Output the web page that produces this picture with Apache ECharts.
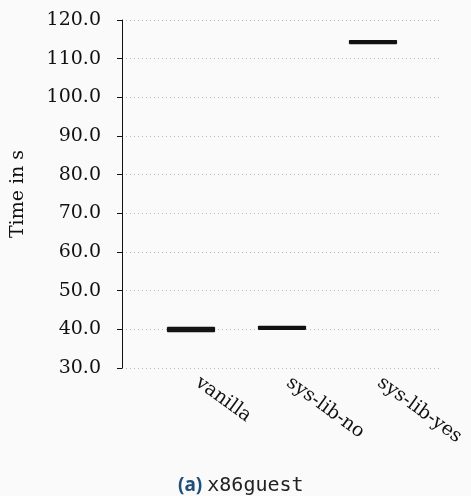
<!DOCTYPE html>
<html>
<head>
<meta charset="utf-8">
<script src="https://cdn.jsdelivr.net/npm/echarts@6/dist/echarts.min.js"></script>
<style>
  html, body { margin: 0; padding: 0; background: #fafafa; }
  #chart { width: 471px; height: 496px; }
</style>
</head>
<body>
<div id="chart"></div>
<script>
// Benchmark run times (seconds) per configuration
const categories = ['vanilla', 'sys-lib-no', 'sys-lib-yes'];
// [min, Q1, median, Q3, max]
const timesVanilla = [39.4, 39.5, 39.9, 40.4, 40.5];
const timesSysLibNo = [40.0, 40.1, 40.4, 40.7, 40.8];
const timesSysLibYes = [113.9, 114.0, 114.3, 114.6, 114.7];
const yMin = 30, yMax = 120, yStep = 10;

const serif = 'DejaVu Serif';
const chart = echarts.init(document.getElementById('chart'));

chart.setOption({
  backgroundColor: '#fafafa',
  animation: false,
  title: {
    left: 173,
    top: 471,
    text: '{a|(a)} {b|x86guest}',
    textStyle: {
      fontWeight: 'normal',
      rich: {
        a: { fontFamily: 'Noto Sans', fontWeight: 'bold', fontSize: 19, color: '#1f4e79' },
        b: { fontFamily: 'DejaVu Sans Mono', fontWeight: 'normal', fontSize: 20, color: '#222' }
      }
    }
  },
  grid: [
    // frame carrying the value axis and its dotted grid lines
    { left: 122, right: 30, top: 20, bottom: 128 },
    // frame holding the boxes, narrower so the categories sit inside
    { left: 145.5, right: 52.5, top: 20, bottom: 128 }
  ],
  xAxis: [
    { gridIndex: 0, type: 'value', show: false, min: 0, max: 1 },
    {
      gridIndex: 1,
      type: 'category',
      data: categories,
      axisLine: { show: false },
      axisTick: { show: false },
      splitLine: { show: false },
      axisLabel: {
        rotate: -36,
        margin: 8,
        padding: [0, 0, 0, 8],
        fontFamily: serif,
        fontSize: 19,
        color: '#111'
      }
    }
  ],
  yAxis: [
    {
      gridIndex: 0,
      type: 'value',
      min: yMin,
      max: yMax,
      interval: yStep,
      name: 'Time in s',
      nameLocation: 'middle',
      nameRotate: 90,
      nameGap: 94,
      nameTextStyle: { fontFamily: serif, fontSize: 19, color: '#111' },
      axisLine: { show: true, lineStyle: { color: '#111', width: 1 } },
      axisTick: { show: true, length: 5, lineStyle: { color: '#111' } },
      axisLabel: {
        margin: 21,
        fontFamily: serif,
        fontSize: 19,
        color: '#111',
        formatter: v => v.toFixed(1)
      },
      splitLine: { show: true, lineStyle: { color: '#bbb', type: [1, 3], width: 1 } }
    },
    { gridIndex: 1, type: 'value', min: yMin, max: yMax, show: false, splitLine: { show: false } }
  ],
  series: [
    {
      type: 'boxplot',
      xAxisIndex: 1,
      yAxisIndex: 1,
      boxWidth: [47, 47],
      itemStyle: { color: '#231f18', borderColor: '#111', borderWidth: 1.2 },
      data: [timesVanilla, timesSysLibNo, timesSysLibYes]
    }
  ]
});
</script>
</body>
</html>
